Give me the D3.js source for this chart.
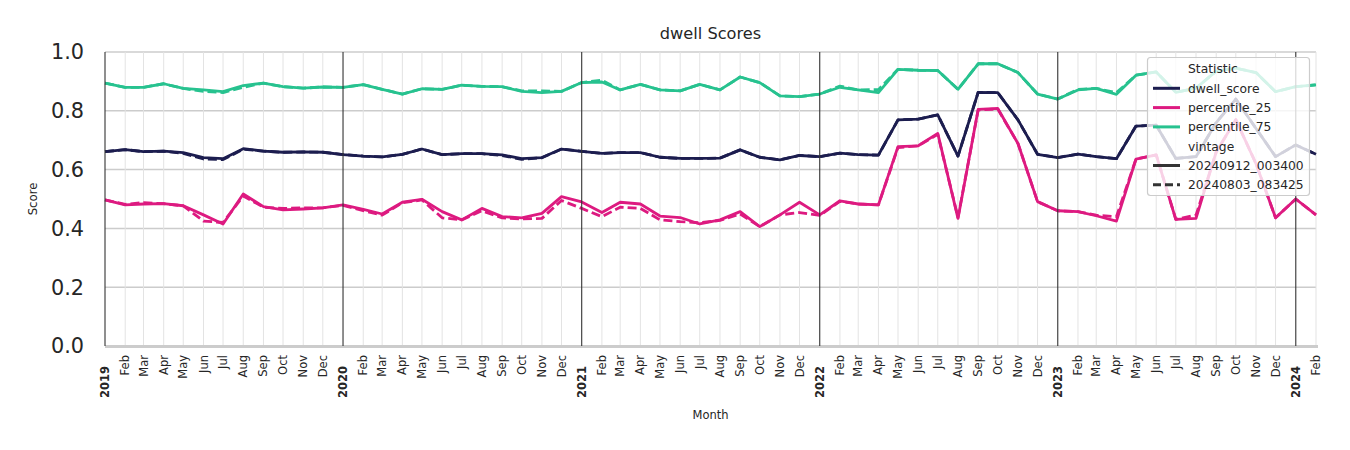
<!DOCTYPE html>
<html><head><meta charset="utf-8">
<script src="https://cdn.jsdelivr.net/npm/d3@7"></script>
<style>body{margin:0;background:#fff}svg{display:block;font-family:"DejaVu Sans",sans-serif}</style>
</head><body><svg id="c" width="1350" height="450"></svg>
<script>
const startMonth = "2019-01";
const monthCount = 62;
const yTicks = [0, 0.2, 0.4, 0.6, 0.8, 1.0];
const monthNames = ["Jan","Feb","Mar","Apr","May","Jun","Jul","Aug","Sep","Oct","Nov","Dec"];
const statistics = ["dwell_score","percentile_25","percentile_75"];
const vintages = ["20240912_003400","20240803_083425"];

const dwellNew = [0.661,0.668,0.661,0.663,0.658,0.641,0.637,0.671,0.663,0.659,0.660,0.659,
0.651,0.646,0.643,0.652,0.670,0.651,0.654,0.654,0.650,0.637,0.641,0.670,
0.662,0.655,0.658,0.658,0.642,0.638,0.638,0.639,0.667,0.642,0.633,0.648,
0.644,0.656,0.651,0.649,0.769,0.772,0.786,0.646,0.863,0.862,0.769,0.652,
0.641,0.653,0.644,0.637,0.748,0.751,0.638,0.644,0.760,0.840,0.740,0.644,0.684,0.652];
const dwellOld = [0.661,0.668,0.661,0.663,0.655,0.636,0.634,0.669,0.663,0.659,0.660,0.659,
0.651,0.646,0.643,0.652,0.670,0.651,0.654,0.654,0.648,0.635,0.640,0.670,
0.662,0.655,0.658,0.658,0.642,0.638,0.638,0.639,0.667,0.642,0.633,0.648,
0.644,0.656,0.651,0.649,0.769,0.772,0.786,0.646,0.863,0.862,0.769,0.652,
0.641,0.653,0.644,0.637,0.748,0.751,0.638,0.644,0.760,0.840,0.740,0.644,0.684,0.652];
const p25New = [0.497,0.480,0.483,0.484,0.477,0.446,0.415,0.517,0.474,0.463,0.466,0.470,
0.480,0.465,0.449,0.489,0.499,0.457,0.429,0.468,0.440,0.436,0.451,0.508,
0.490,0.454,0.489,0.483,0.442,0.437,0.415,0.429,0.457,0.406,0.446,0.489,
0.446,0.494,0.483,0.480,0.678,0.681,0.723,0.434,0.805,0.808,0.689,0.491,
0.460,0.457,0.443,0.425,0.636,0.650,0.431,0.434,0.660,0.770,0.620,0.436,0.500,0.446];
const p25Old = [0.497,0.482,0.488,0.484,0.477,0.425,0.420,0.510,0.472,0.468,0.470,0.470,
0.478,0.460,0.445,0.487,0.497,0.436,0.429,0.460,0.436,0.432,0.434,0.495,
0.468,0.440,0.472,0.468,0.429,0.423,0.419,0.427,0.449,0.406,0.446,0.454,
0.444,0.492,0.483,0.480,0.675,0.681,0.720,0.437,0.803,0.806,0.689,0.491,
0.460,0.457,0.445,0.440,0.636,0.650,0.431,0.445,0.660,0.770,0.620,0.436,0.500,0.446];
const p75New = [0.894,0.880,0.880,0.892,0.876,0.871,0.865,0.886,0.894,0.882,0.877,0.881,
0.880,0.889,0.873,0.857,0.875,0.873,0.887,0.883,0.882,0.866,0.862,0.866,
0.896,0.898,0.871,0.890,0.871,0.868,0.890,0.871,0.915,0.896,0.851,0.848,
0.857,0.880,0.871,0.862,0.941,0.938,0.937,0.873,0.960,0.960,0.930,0.857,
0.840,0.871,0.876,0.856,0.921,0.932,0.863,0.877,0.935,0.945,0.930,0.865,0.882,0.888];
const p75Old = [0.894,0.880,0.880,0.892,0.876,0.866,0.862,0.880,0.894,0.882,0.877,0.881,
0.880,0.889,0.873,0.857,0.875,0.873,0.887,0.883,0.882,0.868,0.868,0.866,
0.896,0.904,0.871,0.890,0.871,0.868,0.890,0.871,0.915,0.896,0.851,0.848,
0.857,0.884,0.871,0.872,0.941,0.938,0.937,0.873,0.960,0.960,0.930,0.857,
0.840,0.873,0.876,0.862,0.921,0.932,0.863,0.877,0.935,0.945,0.930,0.865,0.882,0.888];

const colors = {dwell_score:"#1c1d4f", percentile_25:"#dd1a80", percentile_75:"#27c28f"};
const series = [
  {stat:"dwell_score", vintage:0, values:dwellNew},
  {stat:"percentile_25", vintage:0, values:p25New},
  {stat:"percentile_75", vintage:0, values:p75New},
  {stat:"dwell_score", vintage:1, values:dwellOld},
  {stat:"percentile_25", vintage:1, values:p25Old},
  {stat:"percentile_75", vintage:1, values:p75Old}
];

const parse = d3.utcParse("%Y-%m");
const start = parse(startMonth);
const months = d3.range(monthCount).map(i => d3.utcMonth.offset(start, i));

const L = 105, R = 1316, T = 52, B = 346;
const x = d3.scaleUtc().domain([months[0], months[monthCount-1]]).range([L, R]);
const y = d3.scaleLinear().domain([0, 1]).range([B, T]);

const svg = d3.select("#c");
const text = "#262626";

svg.append("g").selectAll("line").data(yTicks.filter(v => v > 0)).join("line")
  .attr("x1", L).attr("x2", R).attr("y1", d => y(d)).attr("y2", d => y(d))
  .attr("stroke", "#cccccc").attr("stroke-width", 1.5);
svg.append("g").selectAll("line").data(months.filter(m => m.getUTCMonth() !== 0)).join("line")
  .attr("x1", d => x(d)).attr("x2", d => x(d)).attr("y1", T).attr("y2", B)
  .attr("stroke", "#e3e3e3").attr("stroke-width", 1);
svg.append("line").attr("x1", L).attr("x2", R + 2).attr("y1", B + 0.5).attr("y2", B + 0.5)
  .attr("stroke", "#cccccc").attr("stroke-width", 3);

const line = d3.line().x((d, i) => x(months[i])).y(d => y(d));
svg.append("g").selectAll("path").data(series).join("path")
  .attr("d", d => line(d.values))
  .attr("fill", "none")
  .attr("stroke", d => colors[d.stat])
  .attr("stroke-width", 2.8)
  .attr("stroke-linejoin", "round")
  .attr("stroke-dasharray", d => d.vintage === 1 ? "9,4" : null);

svg.append("g").selectAll("line").data(months.filter(m => m.getUTCMonth() === 0)).join("line")
  .attr("x1", d => x(d)).attr("x2", d => x(d)).attr("y1", T).attr("y2", B)
  .attr("stroke", "#333333").attr("stroke-width", 1.1);

svg.append("g").selectAll("text").data(yTicks).join("text")
  .attr("x", 84).attr("y", d => y(d)).attr("dy", "0.36em")
  .attr("text-anchor", "end").attr("font-size", 20.8).attr("fill", text)
  .text(d => d.toFixed(1));

svg.append("g").selectAll("text").data(months).join("text")
  .attr("transform", d => {
    const yr = d.getUTCMonth() === 0;
    return `translate(${x(d)},${yr ? 366 : 355}) rotate(-90)`;
  })
  .attr("dy", "0.35em")
  .attr("text-anchor", "end")
  .attr("font-size", 11.5)
  .attr("font-weight", d => d.getUTCMonth() === 0 ? "bold" : "normal")
  .attr("fill", text)
  .text(d => d.getUTCMonth() === 0 ? String(d.getUTCFullYear()) : monthNames[d.getUTCMonth()]);

svg.append("text").attr("x", (L + R) / 2).attr("y", 419).attr("text-anchor", "middle")
  .attr("font-size", 11.5).attr("fill", text).text("Month");
svg.append("text").attr("transform", `translate(37,${(T + B) / 2}) rotate(-90)`)
  .attr("text-anchor", "middle").attr("font-size", 11.7).attr("fill", text).text("Score");
svg.append("text").attr("x", (L + R) / 2).attr("y", 39).attr("text-anchor", "middle")
  .attr("font-size", 16.2).attr("fill", text).text("dwell Scores");

const lg = svg.append("g");
lg.append("rect").attr("x", 1147.5).attr("y", 57.5).attr("width", 162).attr("height", 138).attr("rx", 3)
  .attr("fill", "#ffffff").attr("fill-opacity", 0.8).attr("stroke", "#cccccc").attr("stroke-width", 1.2);
const rows = [
  {label:"Statistic", head:true},
  ...statistics.map(s => ({label:s, color:colors[s]})),
  {label:"vintage", head:true},
  ...vintages.map((v, i) => ({label:v, color:"#333333", dash: i === 1}))
];
rows.forEach((r, i) => {
  const cy = 69 + i * 19.3;
  if (!r.head) {
    lg.append("line").attr("x1", 1153).attr("x2", 1180).attr("y1", cy).attr("y2", cy)
      .attr("stroke", r.color).attr("stroke-width", 3)
      .attr("stroke-dasharray", r.dash ? "8,4" : null);
  }
  lg.append("text").attr("x", 1188).attr("y", cy).attr("dy", "0.36em")
    .attr("font-size", 12.3).attr("fill", text).text(r.label);
});
</script></body></html>
